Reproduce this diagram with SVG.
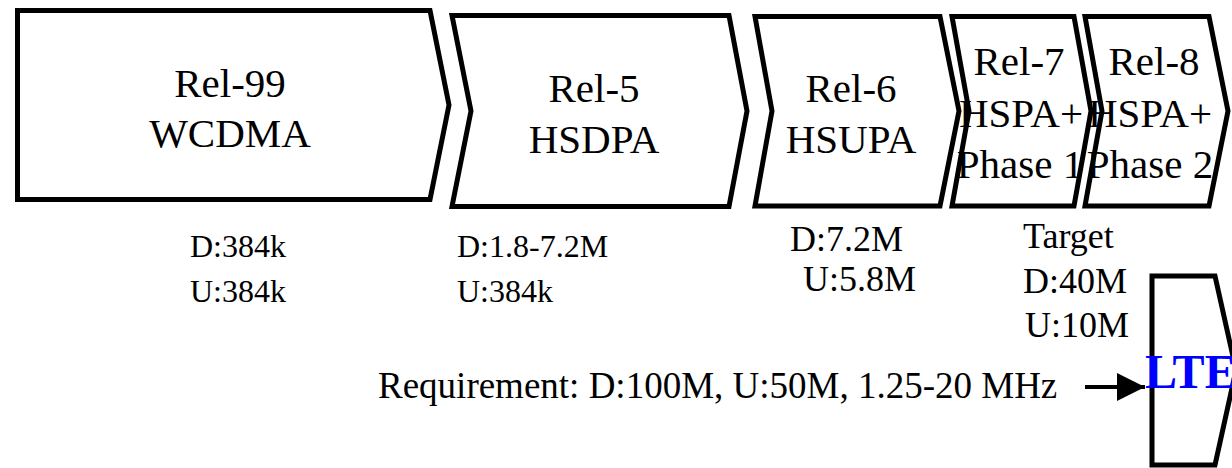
<svg xmlns="http://www.w3.org/2000/svg" width="1232" height="468" viewBox="0 0 1232 468">
<style>
.shape{fill:#fff;stroke:#000;stroke-width:5;stroke-linejoin:miter}
.lbl{font-family:"Liberation Serif","Times New Roman",serif;font-size:41px;fill:#000;text-anchor:middle}
.stat{font-family:"Liberation Serif","Times New Roman",serif;font-size:32px;fill:#000}
.stat36{font-family:"Liberation Serif","Times New Roman",serif;font-size:36px;fill:#000}
.req{font-family:"Liberation Serif","Times New Roman",serif;font-size:37px;fill:#000}
.lte{font-family:"Liberation Serif","Times New Roman",serif;font-size:48px;font-weight:bold;fill:#0000FF}
</style>
<defs>
<marker id="ah" markerWidth="7" markerHeight="7" refX="7" refY="3.5" orient="auto" markerUnits="strokeWidth" viewBox="0 0 7 7">
<path d="M0,0 L7,3.5 L0,7 Z" fill="#000"/>
</marker>
</defs>
<rect width="1232" height="468" fill="#fff"/>
<g id="rel99">
<polygon class="shape" points="17.5,10.5 430,10.5 449,105 430,199.5 17.5,199.5"/>
<text class="lbl" x="230" y="97">Rel-99</text>
<text class="lbl" x="230" y="147">WCDMA</text>
</g>
<g id="rel5">
<polygon class="shape" points="452,15.5 729,15.5 747,111 729,206.5 452,206.5 471,111"/>
<text class="lbl" x="594" y="102">Rel-5</text>
<text class="lbl" x="594" y="153">HSDPA</text>
</g>
<g id="rel6">
<polygon class="shape" points="755,16.5 940,16.5 959,111 940,206 755,206 772,111"/>
<text class="lbl" x="851" y="102">Rel-6</text>
<text class="lbl" x="851" y="153">HSUPA</text>
</g>
<g id="rel7">
<polygon class="shape" points="952,16.5 1074,16.5 1091,111 1074,206 952,206 969,111"/>
<text class="lbl" x="1019" y="75">Rel-7</text>
<text class="lbl" x="1021" y="127">HSPA+</text>
<text class="lbl" x="1020" y="178">Phase 1</text>
</g>
<g id="rel8">
<polygon class="shape" points="1085,16.5 1209,16.5 1228,111 1209,206 1085,206 1102,111"/>
<text class="lbl" x="1154" y="75">Rel-8</text>
<text class="lbl" x="1150" y="127">HSPA+</text>
<text class="lbl" x="1150" y="178">Phase 2</text>
</g>
<g id="lte">
<polygon class="shape" points="1152,276 1215,276 1236,370 1215,465 1152,465"/>
<text class="lte" x="1145" y="388">LTE</text>
</g>
<g id="stats">
<text class="stat" x="190" y="257">D:384k</text>
<text class="stat" x="190" y="302">U:384k</text>
<text class="stat" x="457" y="257">D:1.8-7.2M</text>
<text class="stat" x="457" y="302">U:384k</text>
<text class="stat36" x="790" y="251">D:7.2M</text>
<text class="stat36" x="803" y="291">U:5.8M</text>
<text class="stat36" x="1023" y="248">Target</text>
<text class="stat36" x="1023" y="293">D:40M</text>
<text class="stat36" x="1025" y="337">U:10M</text>
<text class="req" x="378" y="398">Requirement: D:100M, U:50M, 1.25-20 MHz</text>
</g>
<g id="connectors">
<path d="M1085,387 L1145,387" stroke="#000" stroke-width="4" fill="none" marker-end="url(#ah)"/>
</g>
</svg>
